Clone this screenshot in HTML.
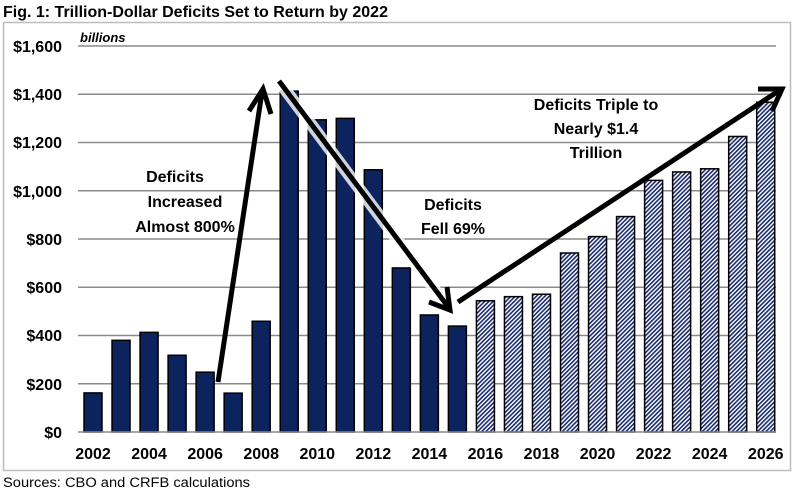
<!DOCTYPE html>
<html><head><meta charset="utf-8"><style>
html,body{margin:0;padding:0;background:#fff;width:800px;height:492px;overflow:hidden}
svg text{font-family:"Liberation Sans",sans-serif}
</style></head><body>
<svg width="800" height="492" viewBox="0 0 800 492" xmlns="http://www.w3.org/2000/svg">
<defs>
<pattern id="h" width="3" height="3" patternUnits="userSpaceOnUse" patternTransform="rotate(45)">
<rect width="3" height="3" fill="#fff"/><rect width="1.6" height="3" fill="#1a2a6c"/>
</pattern>
</defs>
<text x="3" y="17" font-size="16" font-weight="bold" fill="#000">Fig. 1: Trillion-Dollar Deficits Set to Return by 2022</text>
<rect x="3.5" y="22.5" width="787" height="448" fill="none" stroke="#bdbdbd" stroke-width="1.5"/>
<text x="3" y="487" font-size="13.5" fill="#000" textLength="247" lengthAdjust="spacingAndGlyphs">Sources: CBO and CRFB calculations</text>
<text x="80" y="42" font-size="13" font-weight="bold" font-style="italic">billions</text>
<g stroke="#8a8a8a" stroke-width="1.5">
<line x1="78" x2="776" y1="46" y2="46"/><line x1="78" x2="776" y1="94.25" y2="94.25"/>
<line x1="78" x2="776" y1="142.5" y2="142.5"/><line x1="78" x2="776" y1="190.75" y2="190.75"/>
<line x1="78" x2="776" y1="239" y2="239"/><line x1="78" x2="776" y1="287.25" y2="287.25"/>
<line x1="78" x2="776" y1="335.5" y2="335.5"/><line x1="78" x2="776" y1="383.75" y2="383.75"/>
</g>
<g font-size="16" font-weight="bold" text-anchor="end">
<text x="62" y="52">$1,600</text><text x="62" y="100">$1,400</text><text x="62" y="148">$1,200</text>
<text x="62" y="197">$1,000</text><text x="62" y="245">$800</text><text x="62" y="293">$600</text>
<text x="62" y="341">$400</text><text x="62" y="390">$200</text><text x="62" y="438">$0</text>
</g>
<g id="bars" stroke="#000" stroke-width="1.5"></g>
<line x1="78" x2="776" y1="432" y2="432" stroke="#8a8a8a" stroke-width="1.5"/>
<g id="xl" font-size="16" font-weight="bold" text-anchor="middle"></g>
<g font-size="16" font-weight="bold" text-anchor="middle">
<text x="175" y="182">Deficits</text><text x="185" y="207">Increased</text><text x="185" y="232">Almost 800%</text>
<text x="453" y="210">Deficits</text><text x="453" y="234">Fell 69%</text>
<text x="596" y="110">Deficits Triple to</text><text x="596" y="134">Nearly $1.4</text><text x="596" y="158">Trillion</text>
</g>
<g stroke="#fff" stroke-width="12" fill="none" opacity="0.8">
<line x1="281" y1="84" x2="446" y2="305"/>
</g>
<g stroke="#000" stroke-width="5" fill="none" stroke-linecap="butt">
<line x1="218" y1="382" x2="262" y2="92"/><polyline points="249,111 263,89 271,114"/>
<line x1="279" y1="81" x2="449" y2="308"/><polyline points="429,302 450,310 447,287"/>
<line x1="458" y1="302" x2="780" y2="90"/><polyline points="758,89 782,89 772,111"/>
</g>
</svg>
<script>
var v=[162,380,413,318,248,161,459,1413,1294,1300,1087,680,485,439,544,561,571,742,810,893,1043,1078,1091,1225,1367];
var g=document.getElementById('bars'),xl=document.getElementById('xl'),ns="http://www.w3.org/2000/svg";
for(var i=0;i<v.length;i++){var x=84+i*28.03,h=v[i]*48.25/200;
var r=document.createElementNS(ns,'rect');r.setAttribute('x',x);r.setAttribute('y',432-h);r.setAttribute('width',18);r.setAttribute('height',h);
r.setAttribute('fill',i<14?'#0d235e':'url(#h)');g.appendChild(r);
if(i%2==0){var t=document.createElementNS(ns,'text');t.setAttribute('x',x+9);t.setAttribute('y',459);t.textContent=2002+i;xl.appendChild(t);}}
</script>
</body></html>
